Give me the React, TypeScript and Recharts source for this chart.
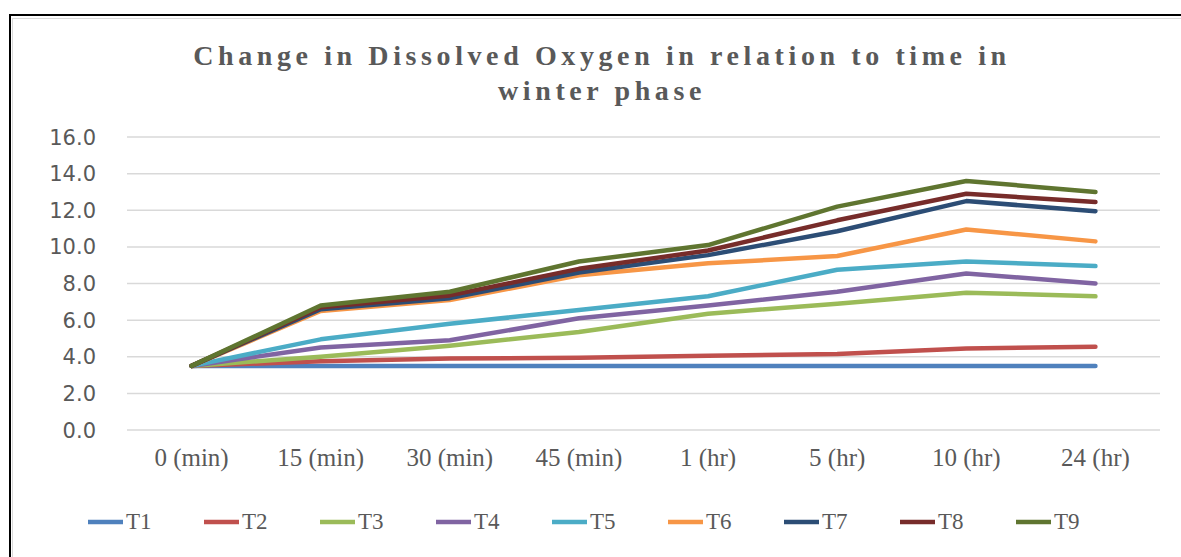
import React from 'react';
import { LineChart, Line, XAxis, YAxis, CartesianGrid, Legend } from 'recharts';

const categories = ['0 (min)', '15 (min)', '30 (min)', '45 (min)', '1 (hr)', '5 (hr)', '10 (hr)', '24 (hr)'];
const t1 = [3.5, 3.5, 3.5, 3.5, 3.5, 3.5, 3.5, 3.5];
const t2 = [3.5, 3.75, 3.9, 3.95, 4.05, 4.15, 4.45, 4.55];
const t3 = [3.5, 4.0, 4.6, 5.35, 6.35, 6.9, 7.5, 7.3];
const t4 = [3.5, 4.5, 4.9, 6.1, 6.8, 7.55, 8.55, 8.0];
const t5 = [3.5, 4.95, 5.8, 6.55, 7.3, 8.75, 9.2, 8.95];
const t6 = [3.5, 6.5, 7.1, 8.45, 9.1, 9.5, 10.95, 10.3];
const t7 = [3.5, 6.6, 7.2, 8.6, 9.55, 10.85, 12.5, 11.95];
const t8 = [3.5, 6.7, 7.35, 8.8, 9.8, 11.45, 12.9, 12.45];
const t9 = [3.5, 6.8, 7.55, 9.2, 10.1, 12.2, 13.6, 13.0];

const seriesNames = ['T1', 'T2', 'T3', 'T4', 'T5', 'T6', 'T7', 'T8', 'T9'];
const seriesValues = [t1, t2, t3, t4, t5, t6, t7, t8, t9];
const seriesColors = ['#4F81BD', '#C0504D', '#9BBB59', '#8064A2', '#4BACC6', '#F79646', '#2C4D75', '#772C2A', '#5F7530'];
const yTicks = [0, 2, 4, 6, 8, 10, 12, 14, 16];
const titleLines = ['Change in Dissolved Oxygen in relation to time in', 'winter phase'];

const data = categories.map((c, i) => {
  const row: Record<string, string | number> = { cat: c };
  seriesNames.forEach((n, k) => {
    row[n] = seriesValues[k][i];
  });
  return row;
});

const XTick = (props: any) => {
  const { x, y, payload } = props;
  return (
    <text x={x} y={y} dy={28} textAnchor="middle" fontFamily="'Liberation Serif'" fontSize={25} fill="#595959">
      {payload.value}
    </text>
  );
};

const YTick = (props: any) => {
  const { x, y, payload } = props;
  return (
    <text x={x} y={y} dx={-31} dy={7.5} textAnchor="end" fontFamily="'DejaVu Sans'" fontSize={21} fill="#595959">
      {Number(payload.value).toFixed(1)}
    </text>
  );
};

const renderLegend = (props: any) => {
  const payload = props.payload || [];
  return (
    <div style={{ display: 'flex', flexDirection: 'row', paddingLeft: 88, alignItems: 'center', height: 34 }}>
      {payload.map((p: any) => (
        <div key={p.value} style={{ width: 116, display: 'flex', alignItems: 'center' }}>
          <svg width={35} height={6} style={{ display: 'block' }}>
            <line x1={0} y1={3} x2={35} y2={3} stroke={p.color} strokeWidth={4.5} />
          </svg>
          <span style={{ marginLeft: 3, fontFamily: "'Liberation Serif'", fontSize: 23, color: '#595959' }}>{p.value}</span>
        </div>
      ))}
    </div>
  );
};

export default function App() {
  return (
    <div style={{ position: 'absolute', left: 0, top: 0, width: 1181, height: 557, overflow: 'hidden', background: '#fff' }}>
      <div style={{ position: 'absolute', left: 9, top: 14, width: 1300, height: 700, borderLeft: '2px solid #000', borderTop: '2px solid #000' }} />
      <div style={{ position: 'absolute', left: 12, top: 18, width: 1300, height: 700, borderLeft: '1px solid #d9d9d9', borderTop: '1px solid #d9d9d9' }} />
      <div style={{ position: 'absolute', left: 0, top: 0 }}>
        <LineChart width={1181} height={557} data={data} margin={{ top: 137, right: 21, bottom: 97, left: 0 }}>
          <CartesianGrid vertical={false} stroke="#D9D9D9" strokeWidth={1.5} />
          <XAxis dataKey="cat" scale="band" axisLine={false} tickLine={false} height={30} tick={<XTick />} interval={0} />
          <YAxis width={127} domain={[0, 16]} ticks={yTicks} axisLine={false} tickLine={false} tickSize={0} tickMargin={0} tick={<YTick />} />
          {seriesNames.map((n, k) => (
            <Line key={n} type="linear" dataKey={n} name={n} stroke={seriesColors[k]} strokeWidth={4.5} dot={false} activeDot={false} isAnimationActive={false} strokeLinecap="round" strokeLinejoin="round" />
          ))}
          <Legend verticalAlign="middle" layout="horizontal" wrapperStyle={{ top: 505, left: 0, width: 1181, height: 34 }} content={renderLegend} />
        </LineChart>
      </div>
      <div style={{ position: 'absolute', left: 2, top: 38, width: 1200, textAlign: 'center', fontFamily: "'Liberation Serif'", fontWeight: 'bold', fontSize: 28, letterSpacing: 4.6, color: '#595959', lineHeight: '35px' }}>
        {titleLines.map((t) => (
          <div key={t}>{t}</div>
        ))}
      </div>
    </div>
  );
}
